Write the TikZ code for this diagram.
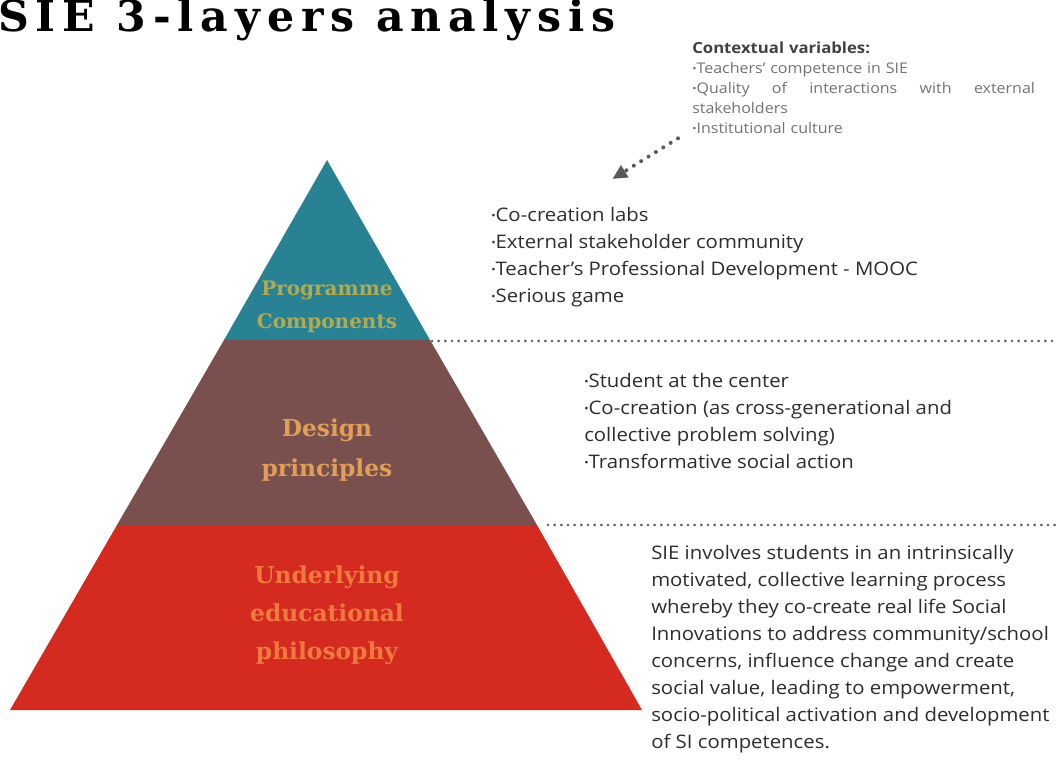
\documentclass[tikz,border=0pt]{standalone}
\usepackage{fontspec}
\setmainfont{Open Sans}[FakeStretch=1.09]
\newfontfamily\slabfont{DejaVu Serif}
\newfontfamily\titlefont[LetterSpace=16]{DejaVu Serif}
\usetikzlibrary{positioning,arrows.meta}
\definecolor{myteal}{RGB}{40,130,148}
\definecolor{mybrown}{RGB}{122,80,78}
\definecolor{myred}{RGB}{212,42,32}
\definecolor{mylime}{RGB}{178,170,80}
\definecolor{mytan}{RGB}{225,158,88}
\definecolor{myorange}{RGB}{240,122,62}
\definecolor{mytext}{RGB}{45,45,45}
\definecolor{mygrey}{RGB}{115,115,115}
\definecolor{mydots}{RGB}{90,90,90}
\newcommand{\bul}{\raisebox{0.12em}{\footnotesize\textbullet}}

\begin{document}
\begin{tikzpicture}[x=0.75pt,y=-0.75pt,
  layerlbl/.style={font=\slabfont\bfseries\fontsize{17.5}{30}\selectfont,align=center,inner sep=0pt},
  bultxt/.style={font=\fontsize{14}{20.25}\selectfont,text=mytext,align=left,inner sep=0pt,anchor=north west},
  ctxtxt/.style={font=\fontsize{11}{15}\selectfont,text=mygrey,text width=257pt,align=left,inner sep=0pt,anchor=north west},
  sepline/.style={draw=mydots,line width=2.2pt,line cap=round,dash pattern=on 0pt off 5pt},
  ctxarrow/.style={draw=mydots,line width=3pt,line cap=round,dash pattern=on 0pt off 6.5pt,-{Triangle[length=11pt,width=10pt]}}]

  \useasboundingbox (0,0) rectangle (1058,763);

  % the three layers
  \fill[myteal] (327,160) -- (430,340) -- (224,340) -- cycle;
  \fill[mybrown] (224,340) -- (430,340) -- (537,525) -- (117,525) -- cycle;
  \fill[myred] (117,525) -- (537,525) -- (642,710) -- (10,710) -- cycle;

  \node[layerlbl,text=mylime,font=\slabfont\bfseries\fontsize{15}{25}\selectfont] (progl) at (327,307) {Programme\\Components};
  \node[layerlbl,text=mytan] (designl) at (327,450) {Design\\principles};
  \node[layerlbl,text=myorange,font=\slabfont\bfseries\fontsize{17.5}{28.5}\selectfont] (philol) at (327,615) {Underlying\\educational\\philosophy};

  \node[anchor=base west,inner sep=0pt,font=\titlefont\bfseries\fontsize{32}{38}\selectfont] (title) at (-2,32) {SIE 3-layers analysis};

  % texts on the right
  \node[ctxtxt] (ctxtxt) at (692,42) {\textcolor{darkgray}{\bfseries\fontsize{11.5}{15}\selectfont Contextual variables:}\\
    \bul Teachers' competence in SIE\\
    \bul Quality\hfill of\hfill interactions\hfill with\hfill external\\
    stakeholders\\
    \bul Institutional culture};

  \node[bultxt] (progtxt) at (491,207) {\bul Co-creation labs\\
    \bul External stakeholder community\\
    \bul Teacher's Professional Development - MOOC\\
    \bul Serious game};

  \node[bultxt] (designtxt) at (584,373) {\bul Student at the center\\
    \bul Co-creation (as cross-generational and\\
    collective problem solving)\\
    \bul Transformative social action};

  \node[bultxt] (philotxt) at (651,545) {SIE involves students in an intrinsically\\
    motivated, collective learning process\\
    whereby they co-create real life Social\\
    Innovations to address community/school\\
    concerns, influence change and create\\
    social value, leading to empowerment,\\
    socio-political activation and development\\
    of SI competences.};

  % separators
  \draw[sepline] (432,341) -- (1058,341);
  \draw[sepline] (548,525) -- (1058,525);

  \draw[ctxarrow] ([xshift=-10.5pt,yshift=-3pt]ctxtxt.south west) -- ([xshift=91pt,yshift=21pt]progtxt.north west);

\end{tikzpicture}
\end{document}
